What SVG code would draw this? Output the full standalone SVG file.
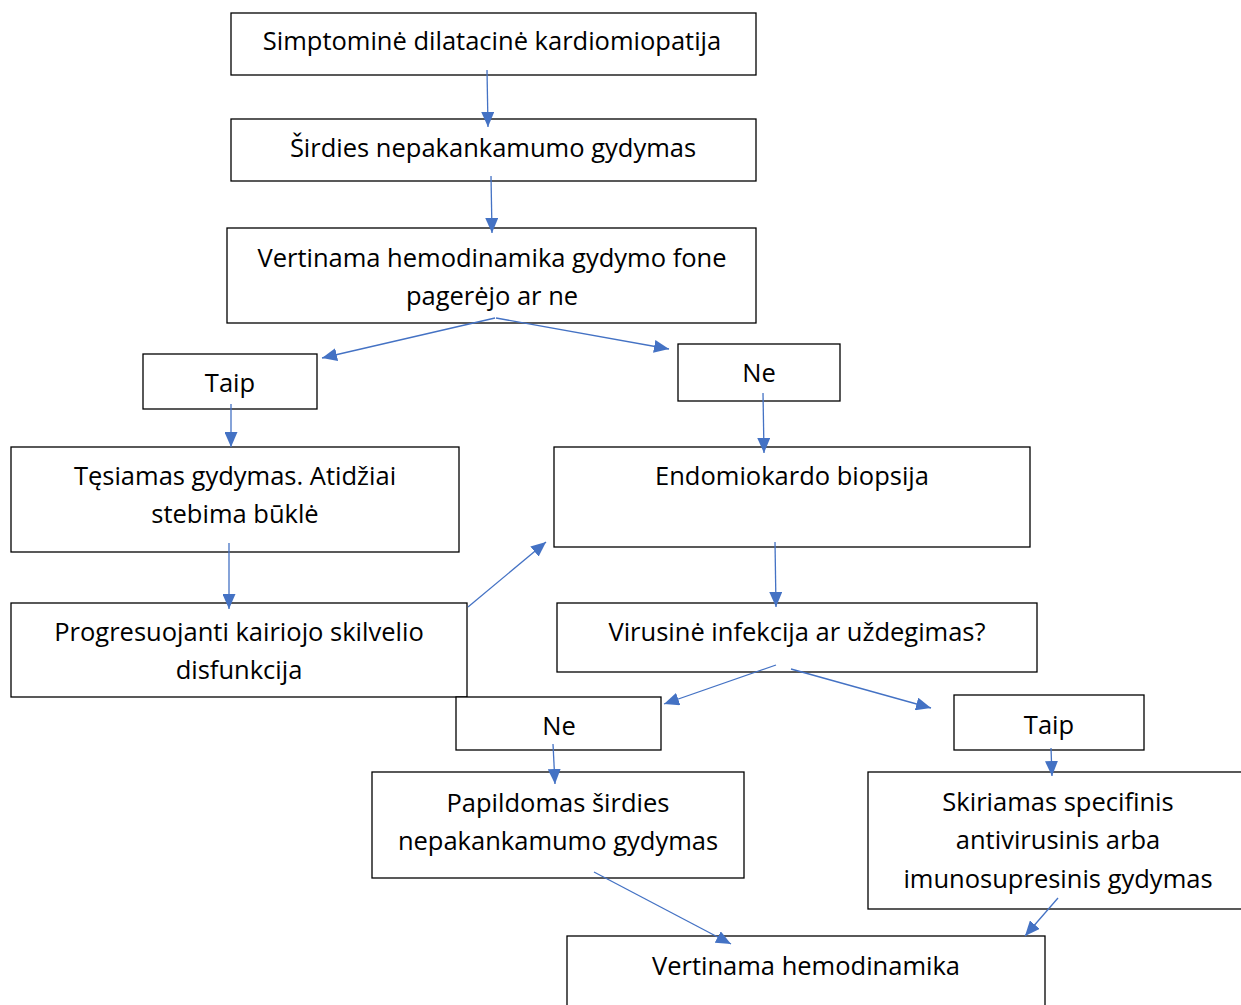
<svg xmlns="http://www.w3.org/2000/svg" width="1241" height="1005" viewBox="0 0 1241 1005">
<style>
.box{fill:#fff;stroke:#000;stroke-width:1.3}
.t{font-family:"Open Sans","Liberation Sans",Arial,sans-serif;font-size:25.5px;fill:#000;text-anchor:middle}
.c{stroke:#4472C4;stroke-width:1.3;fill:none}
</style>
<defs>
<marker id="ah" viewBox="0 0 15 13" refX="15" refY="6.5" markerWidth="15" markerHeight="13" markerUnits="userSpaceOnUse" orient="auto">
<path d="M0,0 L15,6.5 L0,13 z" fill="#4472C4"/>
</marker>
</defs>
<rect width="1241" height="1005" fill="#fff"/>
<g id="n1"><rect class="box" x="231" y="13" width="525" height="62"/><text class="t" x="492" y="50">Simptominė dilatacinė kardiomiopatija</text></g>
<g id="n2"><rect class="box" x="231" y="119" width="525" height="62"/><text class="t" x="493" y="157">Širdies nepakankamumo gydymas</text></g>
<g id="n3"><rect class="box" x="227" y="228" width="529" height="95"/><text class="t" x="492" y="267">Vertinama hemodinamika gydymo fone</text><text class="t" x="492" y="305">pagerėjo ar ne</text></g>
<g id="n4"><rect class="box" x="143" y="354" width="174" height="55"/><text class="t" x="230" y="392">Taip</text></g>
<g id="n5"><rect class="box" x="678" y="344" width="162" height="57"/><text class="t" x="759" y="382">Ne</text></g>
<g id="n6"><rect class="box" x="11" y="447" width="448" height="105"/><text class="t" x="235" y="485">Tęsiamas gydymas. Atidžiai</text><text class="t" x="235" y="523">stebima būklė</text></g>
<g id="n7"><rect class="box" x="554" y="447" width="476" height="100"/><text class="t" x="792" y="485">Endomiokardo biopsija</text></g>
<g id="n8"><rect class="box" x="11" y="603" width="456" height="94"/><text class="t" x="239" y="641">Progresuojanti kairiojo skilvelio</text><text class="t" x="239" y="679">disfunkcija</text></g>
<g id="n9"><rect class="box" x="557" y="603" width="480" height="69"/><text class="t" x="797" y="641">Virusinė infekcija ar uždegimas?</text></g>
<g id="n10"><rect class="box" x="456" y="697" width="205" height="53"/><text class="t" x="559" y="735">Ne</text></g>
<g id="n11"><rect class="box" x="954" y="695" width="190" height="55"/><text class="t" x="1049" y="734">Taip</text></g>
<g id="n12"><rect class="box" x="372" y="772" width="372" height="106"/><text class="t" x="558" y="812">Papildomas širdies</text><text class="t" x="558" y="850">nepakankamumo gydymas</text></g>
<g id="n13"><rect class="box" x="868" y="772" width="380" height="137"/><text class="t" x="1058" y="811">Skiriamas specifinis</text><text class="t" x="1058" y="849">antivirusinis arba</text><text class="t" x="1058" y="888">imunosupresinis gydymas</text></g>
<g id="n14"><rect class="box" x="567" y="936" width="478" height="80"/><text class="t" x="806" y="975">Vertinama hemodinamika</text></g>
<g id="connectors">
<line class="c" x1="487" y1="70" x2="488" y2="127" marker-end="url(#ah)"/>
<line class="c" x1="491" y1="176" x2="492" y2="233" marker-end="url(#ah)"/>
<line class="c" x1="495" y1="318" x2="322" y2="358" marker-end="url(#ah)"/>
<line class="c" x1="496" y1="318" x2="669" y2="349" marker-end="url(#ah)"/>
<line class="c" x1="231" y1="404" x2="231" y2="447" marker-end="url(#ah)"/>
<line class="c" x1="763" y1="393" x2="764" y2="453" marker-end="url(#ah)"/>
<line class="c" x1="229" y1="543" x2="229" y2="609" marker-end="url(#ah)"/>
<line class="c" x1="468" y1="607" x2="546" y2="542" marker-end="url(#ah)"/>
<line class="c" x1="775" y1="542" x2="776" y2="607" marker-end="url(#ah)"/>
<line class="c" x1="776" y1="665" x2="664" y2="704" marker-end="url(#ah)"/>
<line class="c" x1="791" y1="669" x2="931" y2="708" marker-end="url(#ah)"/>
<line class="c" x1="553" y1="744" x2="555" y2="784" marker-end="url(#ah)"/>
<line class="c" x1="1051" y1="748" x2="1052" y2="776" marker-end="url(#ah)"/>
<line class="c" x1="594" y1="872" x2="731" y2="944" marker-end="url(#ah)"/>
<line class="c" x1="1058" y1="898" x2="1025" y2="936" marker-end="url(#ah)"/>
</g>
</svg>
